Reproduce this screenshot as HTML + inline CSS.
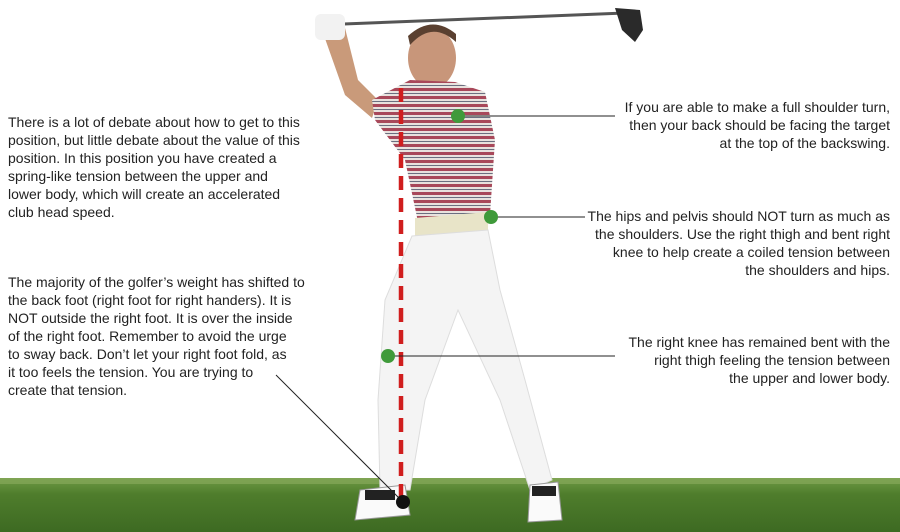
<!DOCTYPE html>
<html><head><meta charset="utf-8"><style>
html,body{margin:0;padding:0;background:#fff;}
#c{position:relative;width:900px;height:532px;overflow:hidden;background:#fff;font-family:"Liberation Sans",sans-serif;font-size:14px;color:#222;}
.t{position:absolute;line-height:18px;white-space:nowrap;}
.r{text-align:right;}
</style></head><body><div id="c">
<svg width="900" height="532" style="position:absolute;left:0;top:0">
<defs>
<linearGradient id="g" x1="0" y1="0" x2="0" y2="1"><stop offset="0" stop-color="#6f9a45"/><stop offset="0.3" stop-color="#4f7d2c"/><stop offset="1" stop-color="#3d6a22"/></linearGradient>
<pattern id="st" width="8" height="8" patternUnits="userSpaceOnUse"><rect width="8" height="8" fill="#e8e2de"/><rect width="8" height="3" fill="#a8485a"/><rect y="5" width="8" height="1" fill="#6b6f80"/></pattern>
</defs>
<rect x="0" y="478" width="900" height="54" fill="url(#g)"/>
<rect x="0" y="478" width="900" height="6" fill="#86a85a" opacity="0.7"/>
<line x1="318" y1="25" x2="625" y2="13" stroke="#555" stroke-width="3"/>
<path d="M615 8 L640 10 L643 30 L635 42 L622 30 Z" fill="#2a2a2a"/>
<path d="M322 30 L345 28 L358 80 L378 100 L372 118 L345 95 Z" fill="#c99a7a"/>
<rect x="315" y="14" width="30" height="26" rx="6" fill="#f2f2f2"/>
<ellipse cx="432" cy="58" rx="24" ry="30" fill="#c8967a"/>
<path d="M410 45 Q432 20 456 42 L456 34 Q432 14 408 36 Z" fill="#5a4030"/>
<path d="M372 100 L410 80 L455 82 L485 92 L495 140 L490 215 L418 222 L405 160 L375 120 Z" fill="url(#st)"/>
<path d="M415 218 L488 212 L488 232 L415 238 Z" fill="#e8e4c8"/>
<path d="M412 236 L488 230 L500 290 L525 380 L552 480 L530 490 L500 400 L458 310 L425 400 L410 490 L380 490 L378 400 L385 300 Z" fill="#f4f4f4" stroke="#ddd"/>
<path d="M360 490 L405 485 L410 515 L355 520 Z" fill="#fafafa" stroke="#999"/>
<path d="M530 485 L558 482 L562 520 L528 522 Z" fill="#fafafa" stroke="#999"/>
<rect x="365" y="490" width="30" height="10" fill="#222"/>
<rect x="532" y="486" width="24" height="10" fill="#222"/>
<line x1="401" y1="88" x2="401" y2="506" stroke="#d01e1e" stroke-width="4.5" stroke-dasharray="14 8"/>
<line x1="458" y1="116" x2="615" y2="116" stroke="#222" stroke-width="1"/>
<line x1="491" y1="217" x2="585" y2="217" stroke="#222" stroke-width="1"/>
<line x1="388" y1="356" x2="615" y2="356" stroke="#222" stroke-width="1"/>
<line x1="276" y1="375" x2="403" y2="502" stroke="#222" stroke-width="1"/>
<circle cx="458" cy="116" r="7" fill="#3f9a3a"/>
<circle cx="491" cy="217" r="7" fill="#3f9a3a"/>
<circle cx="388" cy="356" r="7" fill="#3f9a3a"/>
<circle cx="403" cy="502" r="7" fill="#111"/>
</svg>
<div class="t" style="left:8px;top:113px">There is a lot of debate about how to get to this<br>position, but little debate about the value of this<br>position. In this position you have created a<br>spring-like tension between the upper and<br>lower body, which will create an accelerated<br>club head speed.</div>
<div class="t" style="left:8px;top:273px">The majority of the golfer’s weight has shifted to<br>the back foot (right foot for right handers). It is<br>NOT outside the right foot. It is over the inside<br>of the right foot. Remember to avoid the urge<br>to sway back. Don’t let your right foot fold, as<br>it too feels the tension. You are trying to<br>create that tension.</div>
<div class="t r" style="right:10px;top:98px">If you are able to make a full shoulder turn,<br>then your back should be facing the target<br>at the top of the backswing.</div>
<div class="t r" style="right:10px;top:207px">The hips and pelvis should NOT turn as much as<br>the shoulders. Use the right thigh and bent right<br>knee to help create a coiled tension between<br>the shoulders and hips.</div>
<div class="t r" style="right:10px;top:333px">The right knee has remained bent with the<br>right thigh feeling the tension between<br>the upper and lower body.</div>
</div></body></html>
